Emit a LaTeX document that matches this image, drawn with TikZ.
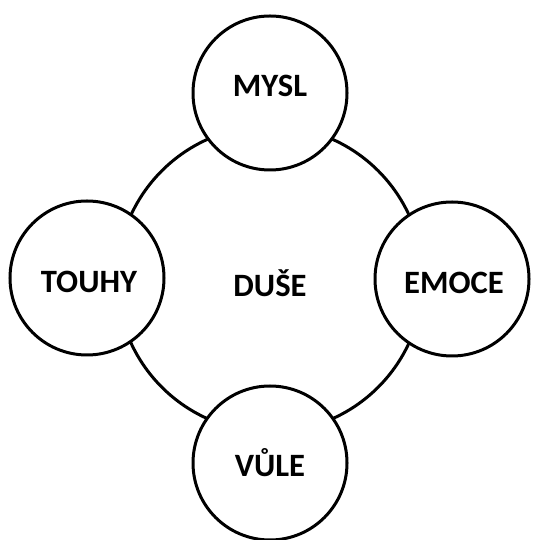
\documentclass[tikz,border=0pt]{standalone}
\usepackage{fontspec}
\setmainfont{Carlito}
\begin{document}
\begin{tikzpicture}[x=1pt,y=1pt,
    part/.style={draw, line width=3pt, circle, fill=white, minimum size=154pt, inner sep=0pt},
    label text/.style={font=\fontsize{32.6}{36}\selectfont\bfseries}]
    \useasboundingbox (0,0) rectangle (534,540);

    % Draw the big circle first
    \node[draw, line width=3pt, circle, minimum size=306pt, inner sep=0pt] (duse) at (270,261) {};

    % Four circles around it
    \node[part] (mysl) at (270,447) {};
    \node[part] (touhy) at (87,262) {};
    \node[part] (emoce) at (452,261) {};
    \node[part] (vule) at (270,77) {};

    % Labels
    \node[label text] at ([yshift=7pt]mysl.center) {MYSL};
    \node[label text] at ([xshift=2pt,yshift=-4pt]touhy.center) {TOUHY};
    \node[label text] at ([yshift=-4pt]duse.center) {DUŠE};
    \node[label text] at ([xshift=2pt,yshift=-4pt]emoce.center) {EMOCE};
    \node[label text] at (vule.center) {VŮLE};
\end{tikzpicture}
\end{document}
